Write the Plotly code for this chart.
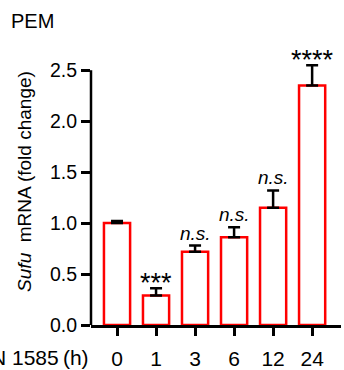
import plotly.graph_objects as go

categories = ["0", "1", "3", "6", "12", "24"]
values = [1.00, 0.29, 0.72, 0.86, 1.15, 2.35]
errors = [0.02, 0.07, 0.06, 0.10, 0.17, 0.20]
labels = ["", "***", "n.s.", "n.s.", "n.s.", "****"]
y_ticks = [0, 0.5, 1.0, 1.5, 2.0, 2.5]
y_ticktext = ["0.0", "0.5", "1.0", "1.5", "2.0", "2.5"]

FONT = "Arial, Liberation Sans, sans-serif"
W, H = 344, 370
L, R, T, B = 91, 3, 58, 45

fig = go.Figure()
fig.add_trace(go.Bar(
    x=list(range(len(categories))), y=values, width=0.67,
    marker=dict(color="white", line=dict(color="#FF0000", width=2.5)),
    error_y=dict(type="data", array=errors, arrayminus=[0]*len(errors),
                 symmetric=False, color="black", thickness=2.5, width=6),
    showlegend=False,
))

for i, (v, e, t) in enumerate(zip(values, errors, labels)):
    if not t:
        continue
    if t.startswith("*"):
        fig.add_annotation(x=i, y=v + e, text=t, showarrow=False,
                           yanchor="bottom", yshift=-12,
                           font=dict(family=FONT, size=27, color="black"))
    else:
        fig.add_annotation(x=i, y=v + e, text="<i>" + t + "</i>", showarrow=False,
                           yanchor="bottom", yshift=0,
                           font=dict(family=FONT, size=19, color="black"))

# y axis line from 0 to 2.5
fig.add_shape(type="line", xref="paper", yref="y", x0=0, x1=0, y0=0, y1=2.5,
              line=dict(color="black", width=2.5))

fig.add_annotation(xref="paper", yref="paper", x=-0.264, y=0.536,
                   text="<i>Sufu</i>  mRNA (fold change)", textangle=-90,
                   showarrow=False, xanchor="center", yanchor="middle",
                   font=dict(family=FONT, size=19, color="black"))
fig.add_annotation(xref="paper", yref="paper", x=-0.002, y=-0.12,
                   text="N 1585\u2009(h)", showarrow=False,
                   xanchor="right", yanchor="middle",
                   font=dict(family=FONT, size=21, color="black"))
fig.add_annotation(xref="paper", yref="paper", x=-0.33, y=1.14,
                   text="PEM", showarrow=False,
                   xanchor="left", yanchor="middle",
                   font=dict(family=FONT, size=20, color="black"))

fig.update_layout(
    template="none",
    width=W, height=H,
    margin=dict(l=L, r=R, t=T, b=B, autoexpand=False),
    paper_bgcolor="white", plot_bgcolor="white",
    font=dict(family=FONT, size=19, color="black"),
    xaxis=dict(range=[-0.667, 5.74], tickmode="array", automargin=False,
               tickvals=list(range(len(categories))), ticktext=categories,
               showline=True, linecolor="black", linewidth=2.5,
               ticks="outside", ticklen=8, tickwidth=2.5, tickcolor="black",
               showgrid=False, zeroline=False, ticklabelstandoff=5,
               tickfont=dict(size=21)),
    yaxis=dict(range=[0, 2.62], tickmode="array", tickvals=y_ticks, automargin=False,
               ticktext=y_ticktext, showline=False,
               ticks="outside", ticklen=9, tickwidth=2.5, tickcolor="black",
               showgrid=False, zeroline=False,
               tickfont=dict(size=19.5)),
)

fig.write_html("out.html", config={"displayModeBar": False},
               post_script="document.body.style.margin='0px';document.body.style.overflow='hidden';")
